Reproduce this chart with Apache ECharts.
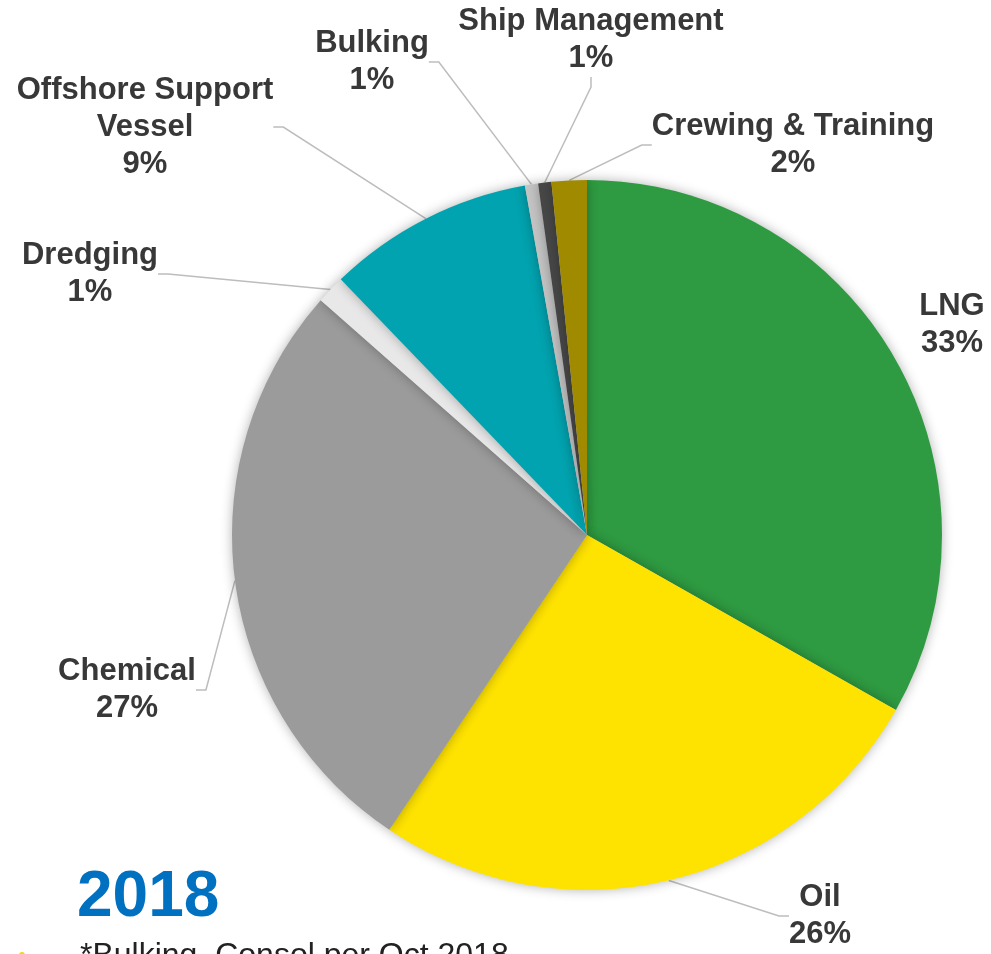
<!DOCTYPE html>
<html>
<head>
<meta charset="utf-8">
<script src="https://cdn.jsdelivr.net/npm/echarts@6/dist/echarts.min.js"></script>
<style>html,body{margin:0;padding:0;background:#fff;}#c{width:991px;height:954px;}</style>
</head>
<body>
<div id="c"></div>
<script>
var categories = ['LNG', 'Oil', 'Chemical', 'Dredging', 'Offshore Support\nVessel', 'Bulking', 'Ship Management', 'Crewing & Training'];
var values = [33.2, 26.2, 27.1, 1.3, 9.4, 0.6, 0.6, 1.6];
var colors = ['#2E9A41', '#FFE300', '#9B9B9B', '#E8E8E8', '#00A3AF', '#C4C4C4', '#474747', '#A08A00'];
var showLine = [false, true, true, true, true, true, true, true];
var yearLabel = '2018';
var footnote = '*Bulking, Consol per Oct 2018';

// label anchor positions (text block centres)
var labelPos = [[952, 325], [820, 916], [127, 690], [90, 274], [145, 127], [372, 62], [591, 40], [793, 145]];

var chart = echarts.init(document.getElementById('c'));
chart.setOption({
  animation: false,
  backgroundColor: '#fff',
  graphic: [
    { type: 'text', left: 77, top: 866, style: { text: yearLabel, font: 'bold 64px "Liberation Sans", Arial, sans-serif', fill: '#0070C0' } },
    { type: 'text', left: 80, top: 940, style: { text: footnote, font: '32px "Liberation Sans", Arial, sans-serif', fill: '#222' } },
    { type: 'circle', shape: { cx: 22, cy: 955, r: 3 }, style: { fill: '#F5D800' } }
  ],
  series: [{
    type: 'pie',
    center: [587, 535],
    radius: [0, 355],
    startAngle: 90,
    clockwise: true,
    avoidLabelOverlap: false,
    data: categories.map(function (c, i) {
      return { name: c, value: values[i], itemStyle: { color: colors[i] }, labelLine: { show: showLine[i] } };
    }),
    itemStyle: { shadowBlur: 12, shadowColor: 'rgba(0,0,0,0.3)', borderWidth: 0 },
    label: {
      show: true,
      position: 'outside',
      formatter: function (p) { return p.name + '\n' + Math.round(p.value) + '%'; },
      fontFamily: '"Liberation Sans", Arial, sans-serif',
      fontWeight: 'bold',
      fontSize: 31,
      lineHeight: 37,
      color: '#383838',
      align: 'center'
    },
    labelLine: { show: true, length: 10, length2: 10, smooth: false, lineStyle: { color: '#BDBDBD', width: 1.5 } },
    labelLayout: function (p) {
      var pos = labelPos[p.dataIndex];
      return { x: pos[0], y: pos[1], align: 'center', verticalAlign: 'middle' };
    },
    emphasis: { disabled: true }
  }]
});
</script>
</body>
</html>
